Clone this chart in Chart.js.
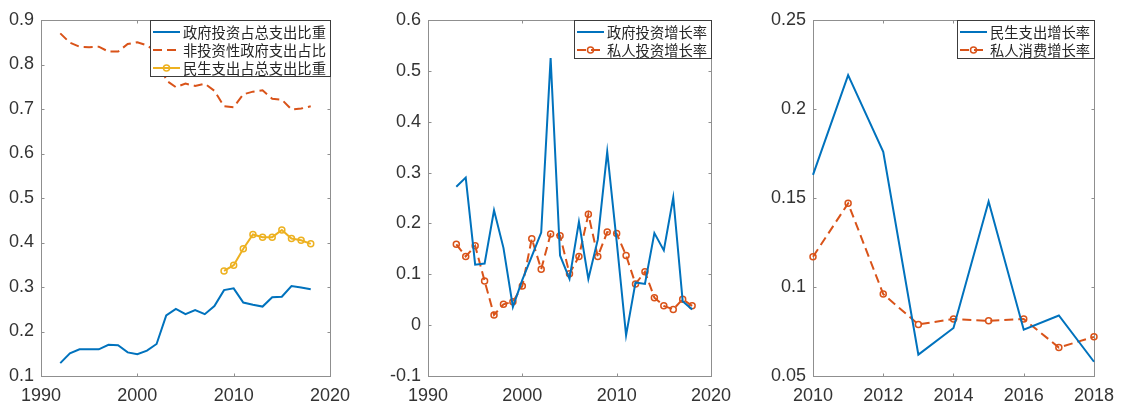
<!DOCTYPE html>
<html>
<head>
<meta charset="utf-8">
<script src="https://cdn.jsdelivr.net/npm/chart.js@4.4.1/dist/chart.umd.min.js"></script>
<style>
  body { margin: 0; background: #fff; width: 1123px; height: 405px; overflow: hidden; position: relative; }
  canvas { position: absolute; top: 0; }
</style>
</head>
<body>
<canvas id="chart1" width="360" height="405" style="left:0px"></canvas>
<canvas id="chart2" width="365" height="405" style="left:375px"></canvas>
<canvas id="chart3" width="363" height="405" style="left:760px"></canvas>
<script>
// panel 1: shares of total spending
const years1 = [1992, 1993, 1994, 1995, 1996, 1997, 1998, 1999, 2000, 2001, 2002, 2003, 2004, 2005,
                2006, 2007, 2008, 2009, 2010, 2011, 2012, 2013, 2014, 2015, 2016, 2017, 2018];
const govInvShare = [0.129, 0.151, 0.160, 0.160, 0.160, 0.170, 0.169, 0.153, 0.149, 0.157, 0.172, 0.236, 0.251, 0.239,
                     0.248, 0.239, 0.257, 0.293, 0.297, 0.265, 0.260, 0.256, 0.277, 0.278, 0.302, 0.299, 0.295];
const nonInvShare = [0.870, 0.849, 0.840, 0.839, 0.840, 0.829, 0.829, 0.846, 0.850, 0.843, 0.828, 0.764, 0.749, 0.757,
                     0.752, 0.757, 0.741, 0.706, 0.704, 0.733, 0.739, 0.742, 0.723, 0.721, 0.699, 0.701, 0.706];
const years1b = [2009, 2010, 2011, 2012, 2013, 2014, 2015, 2016, 2017, 2018];
const livelihoodShare = [0.336, 0.349, 0.386, 0.418, 0.412, 0.412, 0.428, 0.409, 0.405, 0.397];

// panel 2: investment growth
const years2 = [1993, 1994, 1995, 1996, 1997, 1998, 1999, 2000, 2001, 2002, 2003, 2004, 2005,
                2006, 2007, 2008, 2009, 2010, 2011, 2012, 2013, 2014, 2015, 2016, 2017, 2018];
const govInvGrowth = [0.272, 0.290, 0.119, 0.121, 0.226, 0.152, 0.036, 0.089, 0.135, 0.182, 0.525, 0.137, 0.091,
                      0.203, 0.091, 0.168, 0.341, 0.165, -0.020, 0.084, 0.081, 0.181, 0.147, 0.251, 0.047, 0.031];
const privInvGrowth = [0.159, 0.135, 0.156, 0.087, 0.020, 0.041, 0.046, 0.077, 0.170, 0.110, 0.179, 0.176, 0.101,
                       0.135, 0.218, 0.135, 0.183, 0.180, 0.137, 0.081, 0.105, 0.054, 0.038, 0.031, 0.051, 0.038];

// panel 3: livelihood spending vs private consumption growth
const years3 = [2010, 2011, 2012, 2013, 2014, 2015, 2016, 2017, 2018];
const livelihoodGrowth = [0.163, 0.219, 0.176, 0.062, 0.077, 0.148, 0.076, 0.084, 0.058];
const consumptionGrowth = [0.117, 0.147, 0.096, 0.079, 0.082, 0.081, 0.082, 0.066, 0.072];

const BLUE = '#0072BD', ORANGE = '#D95319', YELLOW = '#EDB120';
const tickFont = { family: '"Liberation Sans", Arial, sans-serif', size: 18 };

const pts = (xs, ys) => xs.map((x, i) => ({ x: x, y: ys[i] }));

// matlab style box with inward ticks on all sides
const boxPlugin = {
    id: 'matBox',
    beforeDatasetsDraw(chart) {
        const { ctx, chartArea: a, scales } = chart;
        const L = Math.round(a.left) + 0.5, R = Math.round(a.right) + 0.5;
        const T = Math.round(a.top) + 0.5, B = Math.round(a.bottom) + 0.5;
        ctx.save();
        ctx.strokeStyle = '#8f8f8f';
        ctx.lineWidth = 1;
        ctx.strokeRect(L, T, R - L, B - T);
        ctx.beginPath();
        scales.x.ticks.forEach(t => {
            const px = Math.round(scales.x.getPixelForValue(t.value)) + 0.5;
            ctx.moveTo(px, B); ctx.lineTo(px, B - 3);
            ctx.moveTo(px, T); ctx.lineTo(px, T + 3);
        });
        scales.y.ticks.forEach(t => {
            const py = Math.round(scales.y.getPixelForValue(t.value)) + 0.5;
            ctx.moveTo(L, py); ctx.lineTo(L + 3, py);
            ctx.moveTo(R, py); ctx.lineTo(R - 3, py);
        });
        ctx.stroke();
        ctx.restore();
    }
};

// legend drawn on top of the lines, top right corner of the axes
const legendPlugin = {
    id: 'matLegend',
    afterDatasetsDraw(chart) {
        const { ctx, chartArea: a } = chart;
        const sets = chart.data.datasets;
        ctx.save();
        ctx.font = '14.3px "Noto Sans CJK SC", sans-serif';
        const tw = Math.max(...sets.map(d => ctx.measureText(d.label).width));
        const w = Math.round(tw + 37), h = sets.length * 18 + 2;
        const left = Math.round(a.right) - w, top = Math.round(a.top);
        ctx.fillStyle = '#fff';
        ctx.fillRect(left, top, w, h);
        ctx.strokeStyle = '#3c3c3c';
        ctx.lineWidth = 1;
        ctx.strokeRect(left + 0.5, top + 0.5, w, h);
        sets.forEach((d, i) => {
            const cy = top + 12 + i * 18;
            ctx.strokeStyle = d.borderColor;
            ctx.lineWidth = d.borderWidth;
            ctx.setLineDash(d.borderDash || []);
            ctx.beginPath();
            ctx.moveTo(left + 3, cy);
            ctx.lineTo(left + 30, cy);
            ctx.stroke();
            ctx.setLineDash([]);
            if (d.pointRadius > 0) {
                ctx.lineWidth = d.pointBorderWidth;
                ctx.beginPath();
                ctx.arc(left + 16.5, cy, d.pointRadius, 0, Math.PI * 2);
                ctx.stroke();
            }
            ctx.fillStyle = '#262626';
            ctx.textBaseline = 'middle';
            ctx.fillText(d.label, left + 33, cy + 1);
        });
        ctx.restore();
    }
};

function lineSet(label, data, color, dashed, markers) {
    return {
        label: label,
        data: data,
        borderColor: color,
        borderWidth: 2,
        borderDash: dashed ? [9, 5] : [],
        pointRadius: markers ? 3 : 0,
        pointBorderWidth: 1.5,
        pointBorderColor: color,
        pointBackgroundColor: 'rgba(0,0,0,0)',
        tension: 0,
        fill: false,
        clip: false
    };
}

function makeChart(id, datasets, xr, yr, yWidth, rightPad) {
    return new Chart(document.getElementById(id), {
        type: 'line',
        data: { datasets: datasets },
        plugins: [boxPlugin, legendPlugin],
        options: {
            responsive: false,
            animation: false,
            layout: { padding: { top: 20, right: rightPad, bottom: 0, left: 0 } },
            plugins: { legend: { display: false }, tooltip: { enabled: false } },
            scales: {
                x: {
                    type: 'linear', min: xr[0], max: xr[1],
                    grid: { display: false, drawTicks: false },
                    border: { display: false },
                    ticks: { stepSize: xr[2], color: '#333', font: tickFont, padding: 9, maxRotation: 0, autoSkip: false,
                             callback: v => String(v) },
                    afterFit: s => { s.height = 29; }
                },
                y: {
                    min: yr[0], max: yr[1],
                    grid: { display: false, drawTicks: false },
                    border: { display: false },
                    ticks: { stepSize: yr[2], color: '#333', font: tickFont, padding: 7,
                             callback: v => String(+v.toFixed(2)) },
                    afterFit: s => { s.width = yWidth; }
                }
            }
        }
    });
}

makeChart('chart1', [
    lineSet('政府投资占总支出比重', pts(years1, govInvShare), BLUE, false, false),
    lineSet('非投资性政府支出占比', pts(years1, nonInvShare), ORANGE, true, false),
    lineSet('民生支出占总支出比重', pts(years1b, livelihoodShare), YELLOW, false, true)
], [1990, 2020, 10], [0.1, 0.9, 0.1], 41, 30);

makeChart('chart2', [
    lineSet('政府投资增长率', pts(years2, govInvGrowth), BLUE, false, false),
    lineSet('私人投资增长率', pts(years2, privInvGrowth), ORANGE, true, true)
], [1990, 2020, 10], [-0.1, 0.6, 0.1], 53, 24);

makeChart('chart3', [
    lineSet('民生支出增长率', pts(years3, livelihoodGrowth), BLUE, false, false),
    lineSet('私人消费增长率', pts(years3, consumptionGrowth), ORANGE, true, true)
], [2010, 2018, 2], [0.05, 0.25, 0.05], 53, 21);
</script>
</body>
</html>
